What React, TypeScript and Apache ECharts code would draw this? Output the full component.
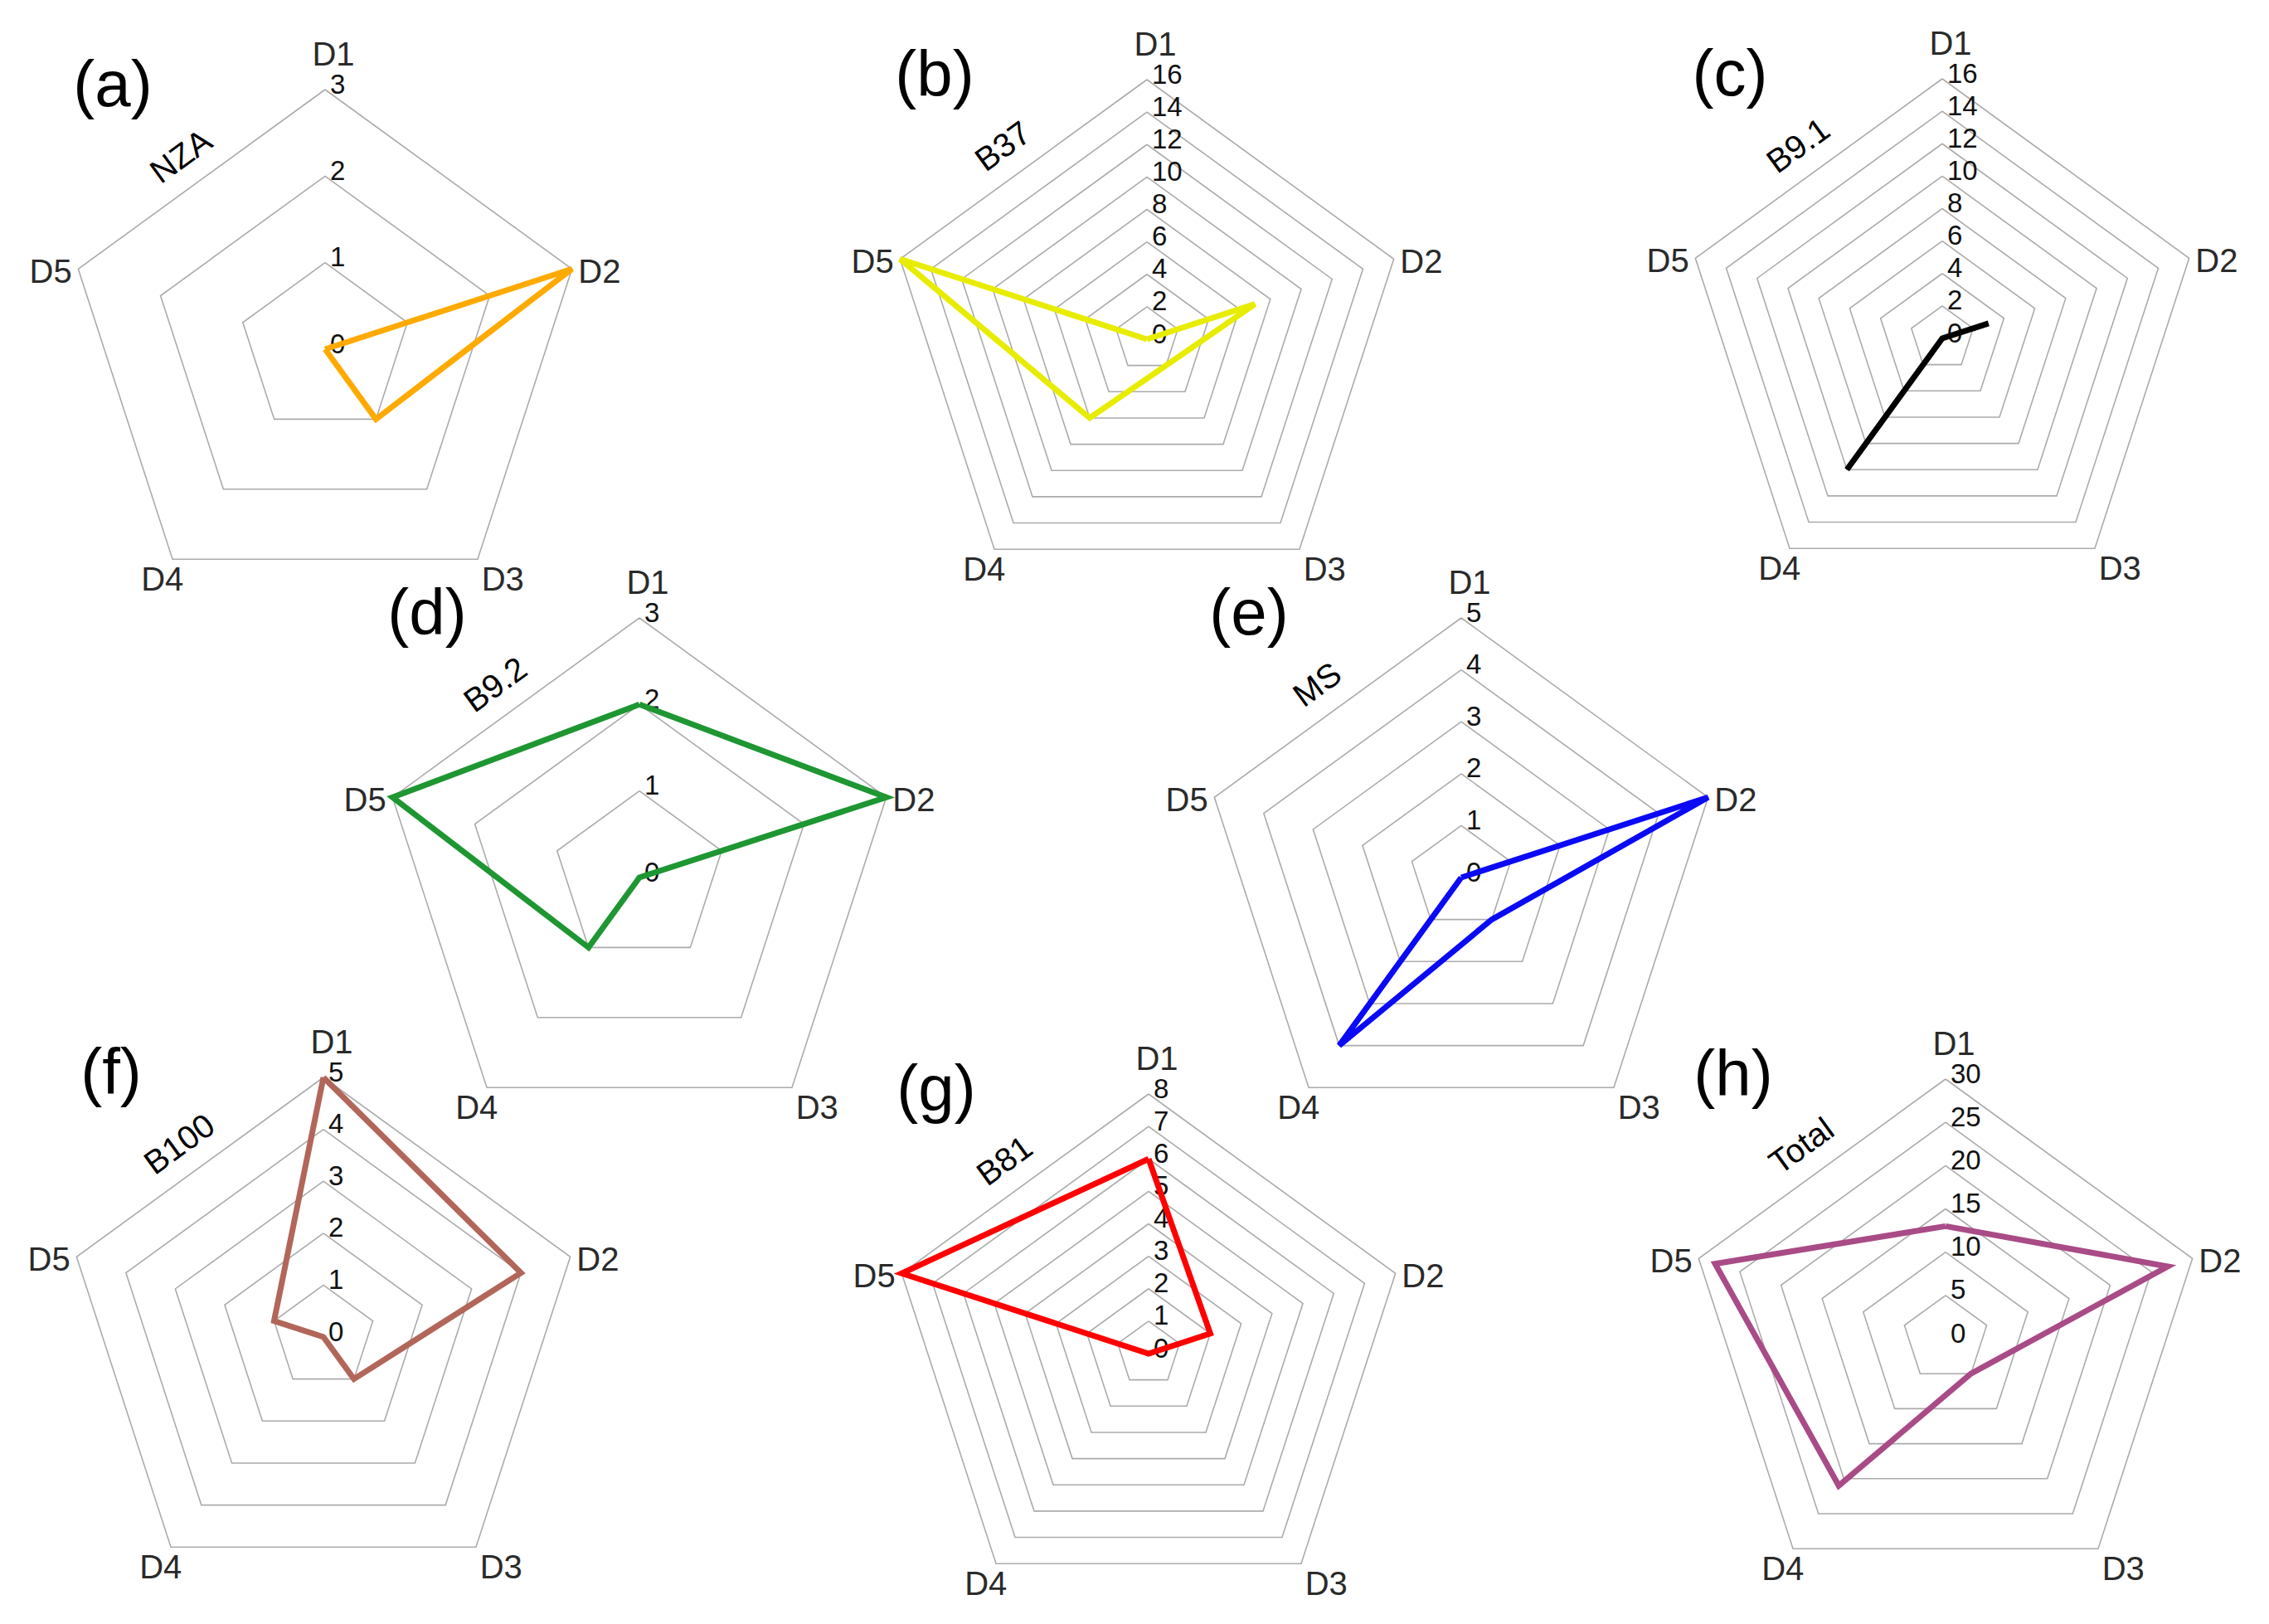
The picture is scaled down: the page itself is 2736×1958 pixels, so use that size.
import React, { useEffect, useRef } from "react";
import * as echarts from "echarts";

// ---------- data ----------
const indicatorNames = ["D1", "D2", "D3", "D4", "D5"];
const panelLabels = ["(a)", "(b)", "(c)", "(d)", "(e)", "(f)", "(g)", "(h)"];
const seriesNames = ["NZA", "B37", "B9.1", "B9.2", "MS", "B100", "B81", "Total"];
const axisMaxima = [3, 16, 16, 3, 5, 5, 8, 30];
const axisSplits = [3, 8, 8, 3, 5, 5, 8, 6];

const nzaValues = [0, 3, 1, 0, 0];
const b37Values = [0, 7, 2, 6, 16];
const b91Values = [0, 3, 0, 10, 0];
const b92Values = [2, 3, 0, 1, 3];
const msValues = [0, 5, 1, 4, 0];
const b100Values = [5, 4, 1, 0, 1];
const b81Values = [6, 2, 0, 0, 8];
const totalValues = [13, 27, 5, 21, 28];

const seriesValues = [nzaValues, b37Values, b91Values, b92Values, msValues, b100Values, b81Values, totalValues];

// ECharts lays radar indicators out counter-clockwise; the figure runs clockwise.
const clockwiseOrder = [0, 4, 3, 2, 1];

// ---------- styling / layout ----------
const lineColors = ["#FFAA00", "#E8EC00", "#000000", "#1E9632", "#0A0AF5", "#B2665A", "#FF0000", "#A94B86"];
const panelCenters: [number, number][] = [
  [392, 421], [1383, 409], [2342, 408],
  [771, 1058], [1762, 1058],
  [390, 1612], [1385, 1632], [2346, 1614],
];
const RADIUS = 313;
const FONT = '"Liberation Sans", Arial, Helvetica, sans-serif';

const nameRich = {
  n1: { fontSize: 40, fontFamily: FONT, color: "#2a2a2a", padding: [0, 0, 13, 20] },
  n2: { fontSize: 40, fontFamily: FONT, color: "#2a2a2a", padding: [11, 0, 0, 0] },
  n3: { fontSize: 40, fontFamily: FONT, color: "#2a2a2a", padding: [35, 0, 0, 0] },
  n4: { fontSize: 40, fontFamily: FONT, color: "#2a2a2a", padding: [35, -18, 0, 0] },
  n5: { fontSize: 40, fontFamily: FONT, color: "#2a2a2a", padding: [11, 0, 0, 0] },
};

function buildOption() {
  const radar = panelCenters.map((c, i) => ({
    center: c,
    radius: RADIUS,
    startAngle: 90,
    shape: "polygon",
    splitNumber: axisSplits[i],
    axisNameGap: 8,
    indicator: clockwiseOrder.map((j) => {
      const ind: any = { name: indicatorNames[j], min: 0, max: axisMaxima[i] };
      if (j === 0) ind.axisLabel = { show: true };
      return ind;
    }),
    axisName: {
      color: "#2a2a2a",
      fontSize: 40,
      fontFamily: FONT,
      formatter: (name: string) => `{n${name.slice(1)}|${name}}`,
      rich: nameRich,
    },
    axisLine: { show: false },
    axisTick: { show: false },
    axisLabel: {
      show: false,
      fontSize: 33,
      fontFamily: FONT,
      color: "#111",
      margin: -6,
      align: "left",
      verticalAlign: "bottom",
      lineHeight: 14,
    },
    splitLine: { lineStyle: { color: "#ABABAB", width: 1.6 } },
    splitArea: { show: false },
  }));

  const series = seriesValues.map((vals, i) => ({
    type: "radar",
    radarIndex: i,
    name: seriesNames[i],
    symbol: "none",
    silent: true,
    lineStyle: { color: lineColors[i], width: 7, join: "miter", miterLimit: 10 },
    itemStyle: { color: lineColors[i] },
    data: [{ value: clockwiseOrder.map((j) => vals[j]), name: seriesNames[i] }],
  }));

  const graphic: any[] = [];
  panelCenters.forEach((c, i) => {
    graphic.push({
      type: "text",
      x: c[0] - 256,
      y: c[1] - 320,
      style: { text: panelLabels[i], fontSize: 78, fontFamily: FONT, fill: "#000", align: "center", verticalAlign: "middle" },
    });
    graphic.push({
      type: "text",
      x: c[0] - 174,
      y: c[1] - 233,
      rotation: 0.628,
      style: { text: seriesNames[i], fontSize: 40, fontFamily: FONT, fill: "#000", align: "center", verticalAlign: "middle" },
    });
  });

  return {
    animation: false,
    backgroundColor: "#ffffff",
    radar,
    series,
    graphic,
  };
}

export default function App() {
  const ref = useRef<HTMLDivElement>(null);
  useEffect(() => {
    if (!ref.current) return;
    const chart = echarts.init(ref.current, null, { renderer: "svg", width: 2736, height: 1958 });
    chart.setOption(buildOption() as any);
    return () => chart.dispose();
  }, []);
  return (
    <div
      ref={ref}
      style={{ position: "fixed", left: 0, top: 0, width: 2736, height: 1958, background: "#fff" }}
    />
  );
}
